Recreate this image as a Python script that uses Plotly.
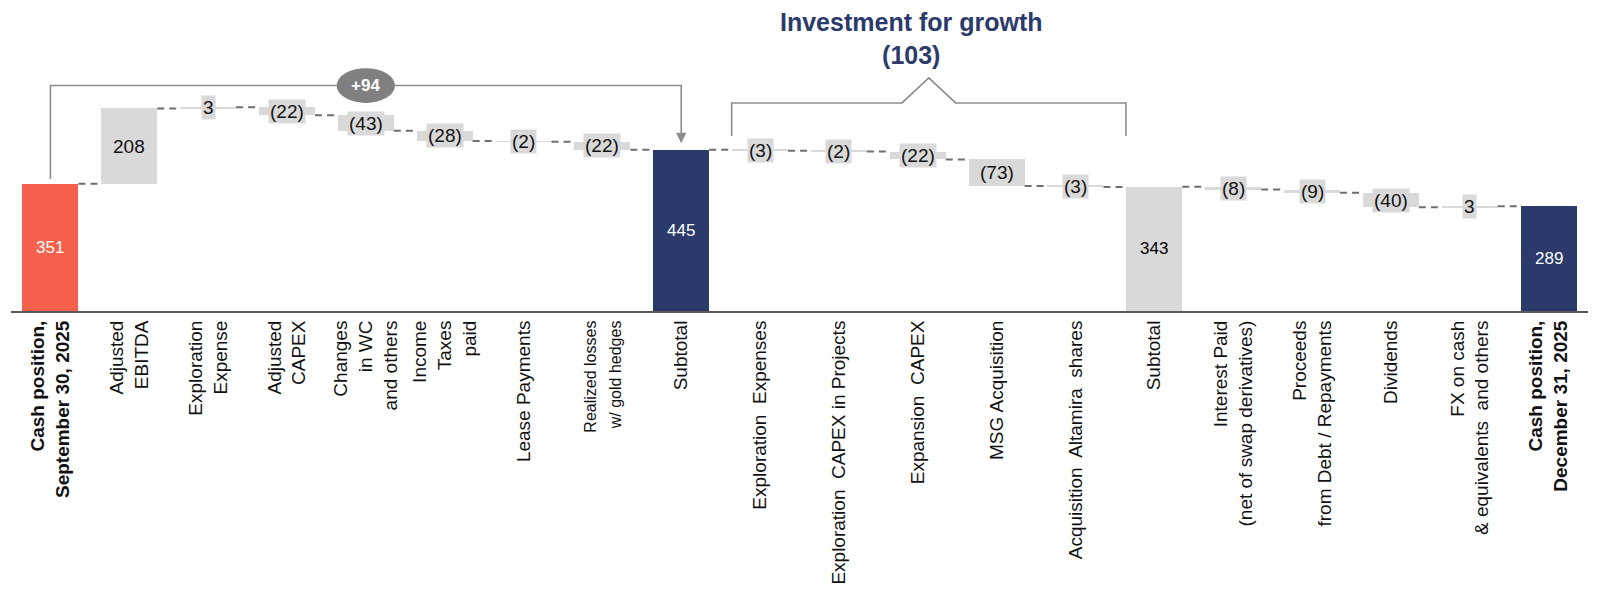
import plotly.graph_objects as go

# ---------------- data ----------------
categories = [
    "<b>Cash position,<br>September 30, 2025</b>",
    "Adjusted<br>EBITDA",
    "Exploration<br>Expense",
    "Adjusted<br>CAPEX",
    "Changes<br>in WC<br>and others",
    "Income<br>Taxes<br>paid",
    "Lease Payments",
    "<span style='font-size:16px'>Realized losses</span><br><span style='font-size:16px'>w/ gold hedges</span>",
    "Subtotal",
    "Exploration\u00a0 Expenses",
    "Exploration\u00a0 CAPEX in Projects",
    "Expansion\u00a0 CAPEX",
    "MSG Acquisition",
    "Acquisition\u00a0 Altamira\u00a0 shares",
    "Subtotal",
    "Interest Paid<br>(net of swap derivatives)",
    "Proceeds<br>from Debt / Repayments",
    "Dividends",
    "FX on cash<br>& equivalents\u00a0 and others",
    "<b>Cash position,<br>December 31, 2025</b>",
]
measures = ["total", "delta", "delta", "delta", "delta", "delta", "delta", "delta",
            "total", "delta", "delta", "delta", "delta", "delta",
            "total", "delta", "delta", "delta", "delta", "total"]
values = [351, 208, 3, -22, -43, -28, -2, -22,
          445, -3, -2, -22, -73, -3,
          343, -8, -9, -40, 3, 289]
total_style = ["start", "sub", "sub_light", "end"]  # order of totals
growth_items = [9, 10, 11, 12, 13]  # indices of "Investment for growth" items

# ---------------- styles ----------------
RED = "#F4604B"
NAVY = "#2B3A6B"
LIGHT = "#D9D9D9"
DARK_GRAY = "#6F6F6F"
BRACKET = "#8C8C8C"
FONT = "Liberation Sans, Arial, sans-serif"
total_fill = {"start": RED, "sub": NAVY, "sub_light": LIGHT, "end": NAVY}
total_text = {"start": "white", "sub": "white", "sub_light": "black", "end": "white"}

BAR_W = 0.71

# ---------------- compute bases ----------------
x = list(range(len(values)))
bases, heights, levels, colors = [], [], [], []
level = 0
t_i = 0
ann = []
for i, (m, v) in enumerate(zip(measures, values)):
    if m == "total":
        b, h = 0, v
        level = v
        st = total_style[t_i]
        t_i += 1
        colors.append(total_fill[st])
        ann.append(dict(x=i, y=v / 2, text=str(v), showarrow=False,
                        font=dict(family=FONT, size=17, color=total_text[st])))
    else:
        b, h = level, v
        level += v
        colors.append(LIGHT)
        txt = f"({abs(v)})" if v < 0 else str(v)
        ann.append(dict(x=i, y=b + v / 2, text=txt, showarrow=False,
                        bgcolor=LIGHT, borderpad=1,
                        font=dict(family=FONT, size=19, color="#111111")))
    bases.append(b)
    heights.append(h)
    levels.append(level)

fig = go.Figure()
fig.add_trace(go.Bar(x=x, y=heights, base=bases, width=BAR_W,
                     marker=dict(color=colors, line=dict(width=0)),
                     hoverinfo="skip", showlegend=False))

# connectors
cx, cy = [], []
for i in range(len(values) - 1):
    cx += [i + BAR_W / 2, i + 1 - BAR_W / 2, None]
    cy += [levels[i], levels[i], None]
fig.add_trace(go.Scatter(x=cx, y=cy, mode="lines",
                         line=dict(color=DARK_GRAY, width=2, dash="7px,5px"),
                         hoverinfo="skip", showlegend=False))

# ---------------- +94 bracket ----------------
i_start = 0
i_sub = measures.index("total", 1)
delta_ops = values[i_sub] - values[i_start]
top_y = 622
fig.add_shape(type="path",
              path=f"M {i_start},{values[i_start] + 13} L {i_start},{top_y} L {i_sub},{top_y} L {i_sub},{values[i_sub] + 40}",
              line=dict(color=BRACKET, width=1.6))
ann.append(dict(x=i_sub, y=values[i_sub] + 18, ax=i_sub, ay=values[i_sub] + 42,
                axref="x", ayref="y", xref="x", yref="y", text="",
                showarrow=True, arrowhead=2, arrowsize=1.3, arrowwidth=1.6,
                arrowcolor=BRACKET))
mid = (i_start + i_sub) / 2
fig.add_shape(type="circle", x0=mid - 0.37, x1=mid + 0.37,
              y0=top_y - 48, y1=top_y + 48,
              fillcolor="#808080", line=dict(width=0))
ann.append(dict(x=mid, y=top_y, text=f"<b>+{delta_ops}</b>", showarrow=False,
                font=dict(family=FONT, size=17, color="white")))

# ---------------- Investment for growth bracket ----------------
g0, g1 = growth_items[0] - 0.36, growth_items[-1] + 0.64
gm = (g0 + g1) / 2
by, bb, apex = 574, 483, 643
fig.add_shape(type="path",
              path=(f"M {g0},{bb} L {g0},{by} L {gm - 0.34},{by} L {gm},{apex} "
                    f"L {gm + 0.34},{by} L {g1},{by} L {g1},{bb}"),
              line=dict(color=BRACKET, width=1.6))
growth_total = -sum(values[k] for k in growth_items)
ann.append(dict(x=gm - 0.22, y=752, text=f"<b>Investment for growth<br>({growth_total})</b>",
                showarrow=False, yanchor="middle",
                font=dict(family=FONT, size=25, color=NAVY)))

fig.update_layout(
    width=1600, height=595,
    margin=dict(l=11, r=12, t=0, b=284, pad=0),
    plot_bgcolor="white", paper_bgcolor="white",
    bargap=0, showlegend=False,
    annotations=ann,
    xaxis=dict(range=[-0.5, len(values) - 0.5], tickmode="array",
               tickvals=x, ticktext=categories, tickangle=-90,
               showgrid=False, zeroline=False, showline=True,
               linecolor="#595959", linewidth=2, ticks="",
               tickfont=dict(family=FONT, size=19, color="#111111"),
               automargin=False, fixedrange=True),
    yaxis=dict(range=[0, 858], visible=False, showgrid=False, zeroline=False,
               fixedrange=True),
)

fig.write_html("out.html",
               config={"displayModeBar": False},
               post_script="document.body.style.margin='0';document.body.style.overflow='hidden';")
